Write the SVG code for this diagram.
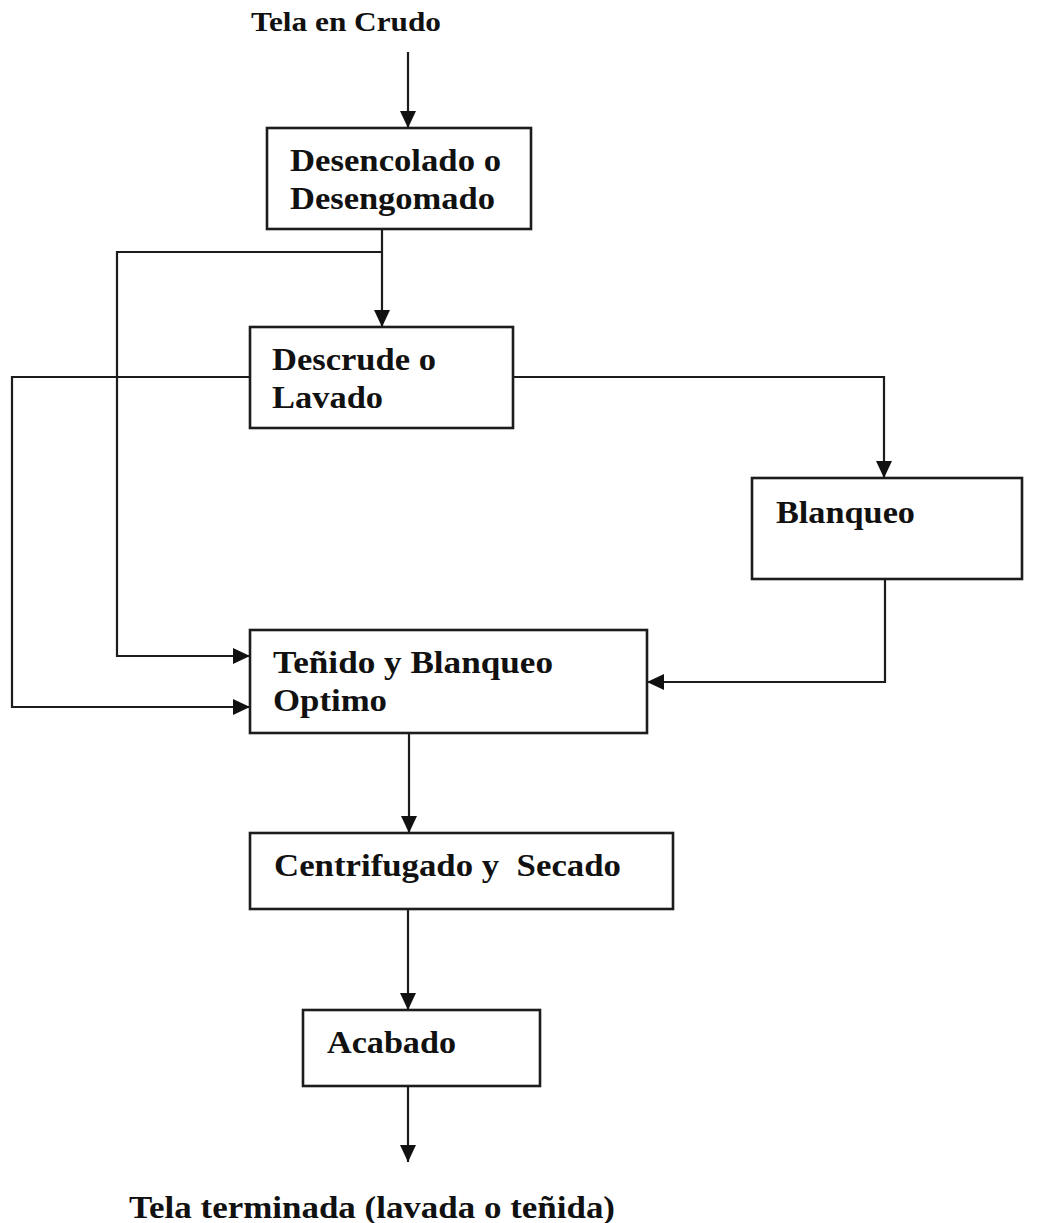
<svg xmlns="http://www.w3.org/2000/svg" width="1038" height="1223" viewBox="0 0 1038 1223">
  <style>
    .box { fill: #ffffff; stroke: #1c1c1c; stroke-width: 2.6; }
    .lbl { font-family: "Liberation Serif", "Times New Roman", serif; font-weight: bold; font-size: 32px; fill: #111111; }
    .title { font-size: 28px; }
    .wire { fill: none; stroke: #1c1c1c; stroke-width: 2.2; }
  </style>
  <defs>
    <marker id="arrow" markerUnits="userSpaceOnUse" markerWidth="18" markerHeight="17" refX="17" refY="8" orient="auto">
      <path d="M0,0 L17,8 L0,16 z" fill="#111111"/>
    </marker>
  </defs>
  <rect width="1038" height="1223" fill="#ffffff"/>

  <!-- connectors -->
  <g id="connectors" class="wire">
    <path d="M408,52 V128" marker-end="url(#arrow)"/>
    <path d="M382,229 V327" marker-end="url(#arrow)"/>
    <path d="M382,252 H117 V656 H250" marker-end="url(#arrow)"/>
    <path d="M250,377 H12 V707 H250" marker-end="url(#arrow)"/>
    <path d="M513,377 H884 V478" marker-end="url(#arrow)"/>
    <path d="M885,579 V682 H647" marker-end="url(#arrow)"/>
    <path d="M409,733 V833" marker-end="url(#arrow)"/>
    <path d="M408,909 V1010" marker-end="url(#arrow)"/>
    <path d="M408,1086 V1162" marker-end="url(#arrow)"/>
  </g>

  <!-- start / end labels -->
  <g id="start">
    <text class="lbl title" x="251" y="31" textLength="190" lengthAdjust="spacingAndGlyphs">Tela en Crudo</text>
  </g>
  <g id="end">
    <text class="lbl" x="129" y="1218" textLength="486" lengthAdjust="spacingAndGlyphs">Tela terminada (lavada o teñida)</text>
  </g>

  <!-- process steps -->
  <g id="desencolado">
    <rect class="box" x="267" y="128" width="264" height="101"/>
    <text class="lbl" x="290" y="171" textLength="211" lengthAdjust="spacingAndGlyphs">Desencolado o</text>
    <text class="lbl" x="290" y="209" textLength="205" lengthAdjust="spacingAndGlyphs">Desengomado</text>
  </g>
  <g id="descrude">
    <rect class="box" x="250" y="327" width="263" height="101"/>
    <text class="lbl" x="272" y="370" textLength="164" lengthAdjust="spacingAndGlyphs">Descrude o</text>
    <text class="lbl" x="272" y="408" textLength="111" lengthAdjust="spacingAndGlyphs">Lavado</text>
  </g>
  <g id="blanqueo">
    <rect class="box" x="752" y="478" width="270" height="101"/>
    <text class="lbl" x="776" y="523" textLength="139" lengthAdjust="spacingAndGlyphs">Blanqueo</text>
  </g>
  <g id="tenido">
    <rect class="box" x="250" y="630" width="397" height="103"/>
    <text class="lbl" x="273" y="673" textLength="280" lengthAdjust="spacingAndGlyphs">Teñido y Blanqueo</text>
    <text class="lbl" x="273" y="711" textLength="114" lengthAdjust="spacingAndGlyphs">Optimo</text>
  </g>
  <g id="centrifugado">
    <rect class="box" x="250" y="833" width="423" height="76"/>
    <text class="lbl" x="274" y="876" textLength="347" lengthAdjust="spacingAndGlyphs" xml:space="preserve">Centrifugado y  Secado</text>
  </g>
  <g id="acabado">
    <rect class="box" x="303" y="1010" width="237" height="76"/>
    <text class="lbl" x="327" y="1053" textLength="129" lengthAdjust="spacingAndGlyphs">Acabado</text>
  </g>
</svg>
